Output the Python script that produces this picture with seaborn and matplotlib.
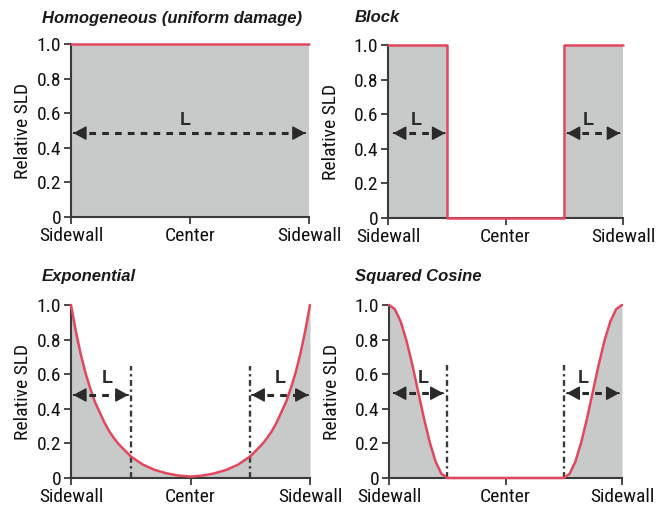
import matplotlib
matplotlib.use("Agg")
import matplotlib.pyplot as plt
import seaborn as sns

# --- data -------------------------------------------------------------
panel_titles = ["Homogeneous (uniform damage)", "Block", "Exponential", "Squared Cosine"]
x_tick_pos = [0.0, 0.5, 1.0]
x_tick_labels = ["Sidewall", "Center", "Sidewall"]
y_tick_pos = [0.0, 0.2, 0.4, 0.6, 0.8, 1.0]
y_tick_labels = ["0", "0.2", "0.4", "0.6", "0.8", "1.0"]
y_label = "Relative SLD"
span_label = "L"
damage_length = 0.25

homog_x = [0.0, 1.0]
homog_y = [1.0, 1.0]

block_x = [0.0, 0.25, 0.25, 0.75, 0.75, 1.0]
block_y = [1.0, 1.0, 0.0, 0.0, 1.0, 1.0]

exp_x = [0.00, 0.02, 0.04, 0.06, 0.08, 0.10, 0.12, 0.14, 0.16, 0.18, 0.20,
         0.25, 0.30, 0.35, 0.40, 0.45, 0.50, 0.55, 0.60, 0.65, 0.70, 0.75,
         0.80, 0.82, 0.84, 0.86, 0.88, 0.90, 0.92, 0.94, 0.96, 0.98, 1.00]
exp_y = [1.00, 0.85, 0.72, 0.61, 0.52, 0.44, 0.38, 0.32, 0.27, 0.23, 0.195,
         0.125, 0.078, 0.047, 0.027, 0.014, 0.008, 0.014, 0.027, 0.047, 0.078, 0.125,
         0.195, 0.23, 0.27, 0.32, 0.38, 0.44, 0.52, 0.61, 0.72, 0.85, 1.00]

cos_x = [0.000, 0.025, 0.050, 0.075, 0.100, 0.125, 0.150, 0.175, 0.200, 0.225, 0.250,
         0.750, 0.775, 0.800, 0.825, 0.850, 0.875, 0.900, 0.925, 0.950, 0.975, 1.000]
cos_y = [1.000, 0.976, 0.905, 0.794, 0.655, 0.500, 0.345, 0.206, 0.095, 0.024, 0.000,
         0.000, 0.024, 0.095, 0.206, 0.345, 0.500, 0.655, 0.794, 0.905, 0.976, 1.000]

# --- style ------------------------------------------------------------
sns.set_style("ticks")
plt.rcParams["font.family"] = ["Roboto Condensed", "Liberation Sans", "DejaVu Sans"]

RED = "#e2475d"
GRAY = "#c8c9c9"
INK = "#2a2a2a"
SPINE = "#3a3a3a"

W, H = 660, 507
fig = plt.figure(figsize=(W / 100, H / 100), dpi=100)
fig.patch.set_facecolor("white")


def px_axes(left, top, right, bottom):
    return fig.add_axes([left / W, 1 - bottom / H, (right - left) / W, (bottom - top) / H])


def style_axes(ax, label_x):
    ax.set_xlim(0, 1)
    ax.set_ylim(0, 1)
    for side in ("top", "right"):
        ax.spines[side].set_visible(False)
    for side in ("left", "bottom"):
        ax.spines[side].set_color(SPINE)
        ax.spines[side].set_linewidth(1.5)
    ax.set_xticks(x_tick_pos)
    ax.set_xticklabels(x_tick_labels)
    ax.set_yticks(y_tick_pos)
    ax.set_yticklabels(y_tick_labels)
    ax.tick_params(axis="both", direction="out", length=5, width=1.3,
                   color=SPINE, labelsize=14, labelcolor="#111111", pad=2)
    ax.set_xlabel("")
    ax.set_ylabel(y_label, fontsize=14, color="#111111")
    ax.yaxis.set_label_coords(label_x, 0.5)
    ax.set_facecolor("white")


def profile(ax, xs, ys):
    ax.fill_between(xs, 0, ys, color=GRAY, lw=0, zorder=1)
    sns.lineplot(x=xs, y=ys, ax=ax, color=RED, lw=1.8, estimator=None,
                 sort=False, zorder=4, clip_on=False)


def span(ax, x0, x1, y, lx, ly):
    ax.plot([x0 + 0.01, x1 - 0.01], [y, y], color=INK, lw=2.2,
            ls=(0, (2.2, 2.0)), zorder=5)
    for tip, back in ((x0, x0 + 0.004), (x1, x1 - 0.004)):
        ax.annotate("", xy=(tip, y), xytext=(back, y),
                    arrowprops=dict(arrowstyle="-|>,head_length=0.55,head_width=0.3",
                                    color=INK, lw=1.2, shrinkA=0, shrinkB=0,
                                    mutation_scale=14), zorder=6)
    ax.text(lx, ly, span_label, ha="center", va="center", fontsize=13,
            fontweight="bold", family="Liberation Sans", color=INK, zorder=6)


def boundary(ax, x, top):
    ax.plot([x, x], [0, top], color="#3a3a3a", lw=1.7,
            ls=(0, (2.5, 1.5, 1, 1.5)), zorder=3)


# Homogeneous
ax1 = px_axes(71, 44, 309, 217)
style_axes(ax1, -0.165)
profile(ax1, homog_x, homog_y)
span(ax1, 0.01, 0.985, 0.485, 0.48, 0.56)

# Block
ax2 = px_axes(388, 45, 623, 218)
style_axes(ax2, -0.205)
profile(ax2, block_x, block_y)
span(ax2, 0.022, 0.243, 0.49, 0.12, 0.565)
span(ax2, 0.762, 0.987, 0.49, 0.85, 0.565)

# Exponential
ax3 = px_axes(71, 305, 310, 478)
style_axes(ax3, -0.165)
profile(ax3, exp_x, exp_y)
boundary(ax3, damage_length, 0.645)
boundary(ax3, 1 - damage_length, 0.645)
span(ax3, 0.01, 0.24, 0.48, 0.15, 0.575)
span(ax3, 0.756, 0.993, 0.48, 0.875, 0.575)

# Squared cosine
ax4 = px_axes(389, 305, 622, 478)
style_axes(ax4, -0.205)
profile(ax4, cos_x, cos_y)
boundary(ax4, damage_length, 0.655)
boundary(ax4, 1 - damage_length, 0.655)
span(ax4, 0.018, 0.233, 0.49, 0.147, 0.575)
span(ax4, 0.763, 0.988, 0.49, 0.834, 0.575)

# Panel titles
title_pos = [(42, 18), (355, 18), (42, 276), (355, 276)]
for (tx, ty), title in zip(title_pos, panel_titles):
    fig.text(tx / W, 1 - ty / H, title, ha="left", va="center", fontsize=12,
             fontweight="bold", style="italic", family="Liberation Sans", color="#1a1a1a")

fig.savefig("out.png", dpi=100, facecolor="white")
